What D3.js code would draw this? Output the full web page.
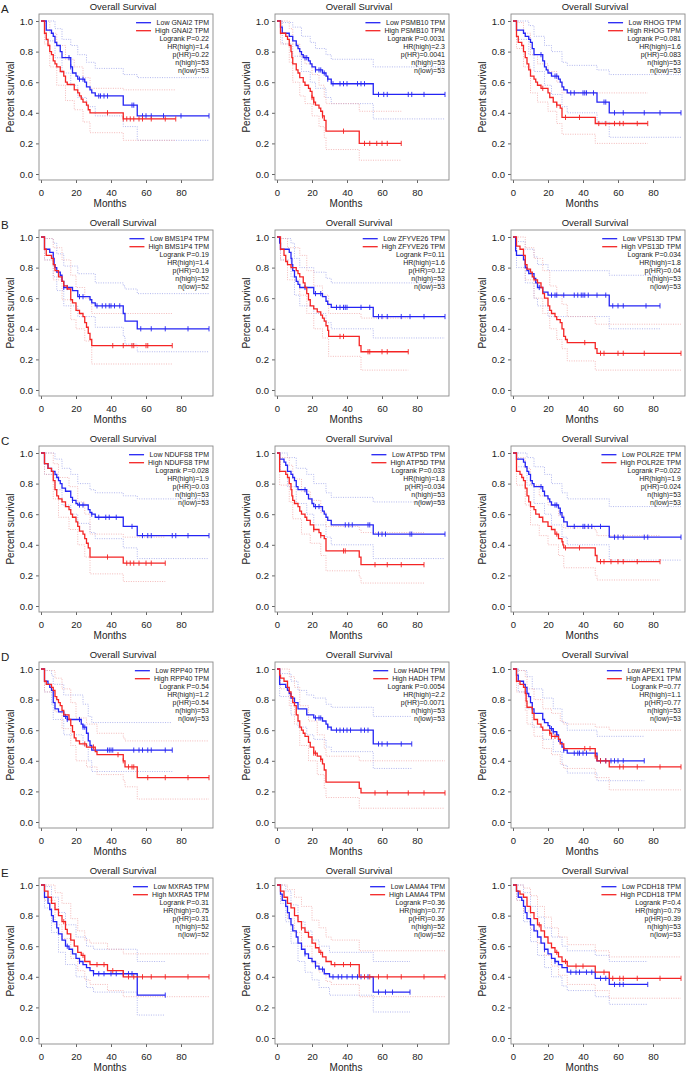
<!DOCTYPE html>
<html lang="en">
<head>
<meta charset="UTF-8" />
<title>Overall Survival panels</title>
<script src="https://d3js.org/d3.v7.min.js"></script>
<style>
  body { margin: 0; background: #fff; font-family: "Liberation Sans", Arial, sans-serif; }
  svg text { fill: #222; }
</style>
</head>
<body>
<div id="container"></div>
<script>
// panel labels and stats
const genes = ["GNAI2", "PSMB10", "RHOG", "BMS1P4", "ZFYVE26", "VPS13D", "NDUFS8", "ATP5D", "POLR2E",
  "RPP40", "HADH", "APEX1", "MXRA5", "LAMA4", "PCDH18"];
const rowLetters = ["A", "B", "C", "D", "E"];
const logrankP = ["0.22", "0.0031", "0.081", "0.19", "0.11", "0.034", "0.028", "0.033", "0.022",
  "0.54", "0.0054", "0.77", "0.31", "0.36", "0.4"];
const hrHigh = ["1.4", "2.3", "1.6", "1.4", "1.6", "1.8", "1.9", "1.8", "1.9", "1.2", "2.2", "1.1", "0.75", "0.77", "0.79"];
const pHR = ["0.22", "0.0041", "0.083", "0.19", "0.12", "0.04", "0.03", "0.034", "0.024",
  "0.54", "0.0071", "0.77", "0.31", "0.36", "0.39"];
const nHigh = [53, 53, 53, 52, 53, 53, 53, 53, 53, 53, 53, 53, 52, 52, 53];
const nLow = [53, 53, 53, 52, 53, 53, 53, 53, 53, 53, 53, 53, 52, 52, 53];
const xTicks = [0, 20, 40, 60, 80];
const yTicks = [0, 0.2, 0.4, 0.6, 0.8, 1.0];

// curves: [month, survival]; censor months; CI: [month, lower, upper]
const GNAI2_low = [[0,1],[3,0.94],[6,0.92],[7,0.90],[8,0.86],[9,0.84],[11,0.80],[12,0.76],[17,0.70],[18,0.66],[20,0.64],[21,0.62],[25,0.60],[26,0.57],[28,0.55],[29,0.53],[31,0.51],[47,0.45],[55,0.38],[96,0.38]];
const GNAI2_lowC = [16,17,22,24,33,34,36,38,52,53,58,60,63,70,80,96];
const GNAI2_lowCI = [[0,1,1],[3,0.87,1],[8,0.76,0.95],[12,0.66,0.88],[17,0.58,0.84],[21,0.50,0.78],[26,0.44,0.73],[31,0.38,0.69],[47,0.31,0.65],[55,0.22,0.63],[96,0.22,0.63]];
const GNAI2_high = [[0,1],[2,0.92],[3,0.88],[4,0.84],[5,0.80],[6,0.78],[7,0.74],[8,0.72],[9,0.70],[11,0.67],[13,0.64],[14,0.60],[15,0.585],[19,0.55],[21,0.53],[22,0.51],[23,0.49],[24,0.47],[26,0.45],[27,0.42],[28,0.40],[47,0.36],[77,0.36]];
const GNAI2_highC = [38,47,49,51,53,56,58,63,71,77];
const GNAI2_highCI = [[0,1,1],[2,0.85,1],[5,0.70,0.92],[9,0.58,0.84],[14,0.48,0.75],[19,0.42,0.70],[24,0.34,0.63],[28,0.27,0.56],[47,0.22,0.55],[77,0.22,0.55]];

const PSMB10_low = [[0,1],[2,0.96],[3,0.92],[7,0.90],[9,0.87],[11,0.84],[12,0.82],[13,0.80],[14,0.78],[15,0.76],[18,0.74],[19,0.72],[20,0.70],[22,0.68],[26,0.66],[28,0.64],[29,0.62],[31,0.59],[55,0.52],[96,0.52]];
const PSMB10_lowC = [16,17,22,24,25,27,29,32,36,38,40,46,48,50,58,61,63,75,77,84,96];
const PSMB10_lowCI = [[0,1,1],[3,0.85,0.99],[9,0.77,0.96],[14,0.67,0.90],[19,0.60,0.86],[22,0.56,0.82],[28,0.50,0.78],[31,0.46,0.75],[55,0.36,0.70],[96,0.36,0.70]];
const PSMB10_high = [[0,1],[2,0.92],[5,0.90],[6,0.88],[7,0.84],[8,0.80],[8.5,0.76],[9,0.72],[11,0.68],[12,0.66],[13,0.63],[15,0.60],[16,0.58],[18,0.56],[19,0.54],[20,0.50],[21,0.47],[22,0.45],[24,0.43],[25,0.41],[26,0.38],[27,0.35],[28,0.28],[47,0.20],[71,0.20]];
const PSMB10_highC = [20,21,26,38,50,53,57,60,63,71];
const PSMB10_highCI = [[0,1,1],[2,0.85,1],[7,0.73,0.95],[9,0.60,0.85],[13,0.51,0.77],[16,0.46,0.72],[20,0.38,0.65],[24,0.31,0.58],[27,0.24,0.50],[28,0.16,0.46],[47,0.09,0.41],[71,0.09,0.41]];

const RHOG_low = [[0,1],[2,0.94],[6,0.92],[7,0.90],[9,0.88],[10,0.86],[11,0.82],[12,0.78],[17,0.74],[18,0.70],[19,0.68],[20,0.66],[22,0.64],[26,0.62],[27,0.60],[28,0.57],[29,0.55],[31,0.53],[48,0.47],[55,0.40],[96,0.40]];
const RHOG_lowC = [16,24,25,33,35,40,41,42,46,52,53,58,63,75,84,96];
const RHOG_lowCI = [[0,1,1],[2,0.88,1],[9,0.78,0.97],[12,0.67,0.90],[18,0.58,0.84],[22,0.52,0.80],[28,0.44,0.73],[31,0.40,0.71],[48,0.34,0.68],[55,0.24,0.65],[96,0.24,0.65]];
const RHOG_high = [[0,1],[2,0.90],[3,0.86],[5,0.84],[6,0.80],[7,0.76],[8,0.72],[9,0.68],[10,0.64],[12,0.62],[13,0.60],[14,0.58],[16,0.56],[20,0.53],[21,0.50],[23,0.47],[25,0.45],[27,0.43],[28,0.37],[47,0.33],[77,0.33]];
const RHOG_highC = [17,25,30,38,49,53,58,61,63,71,77];
const RHOG_highCI = [[0,1,1],[2,0.82,0.99],[6,0.70,0.92],[10,0.53,0.78],[14,0.47,0.72],[20,0.41,0.67],[25,0.33,0.60],[28,0.26,0.53],[47,0.20,0.53],[77,0.20,0.53]];

const BMS1P4_low = [[0,1],[2,0.92],[5,0.90],[7,0.86],[7.5,0.82],[8,0.80],[9,0.77],[11,0.75],[12,0.71],[13,0.67],[18,0.65],[21,0.61],[28,0.59],[29,0.57],[31,0.55],[47,0.50],[48,0.45],[55,0.40],[96,0.40]];
const BMS1P4_lowC = [13,15,22,24,32,35,37,39,40,42,45,57,63,71,84,96];
const BMS1P4_lowCI = [[0,1,1],[2,0.85,0.99],[7,0.74,0.96],[9,0.65,0.89],[13,0.55,0.81],[21,0.48,0.76],[31,0.41,0.70],[47,0.35,0.68],[48,0.30,0.66],[55,0.25,0.63],[96,0.25,0.63]];
const BMS1P4_high = [[0,1],[2,0.92],[3,0.88],[6,0.86],[7,0.82],[8,0.78],[10,0.74],[12,0.71],[13,0.68],[15,0.66],[17,0.59],[18,0.57],[20,0.52],[22,0.50],[24,0.48],[25,0.44],[26,0.41],[27,0.37],[28,0.33],[29,0.29],[75,0.29]];
const BMS1P4_highC = [41,47,52,53,60,61,75];
const BMS1P4_highCI = [[0,1,1],[2,0.85,0.99],[7,0.72,0.93],[12,0.59,0.85],[17,0.46,0.75],[20,0.40,0.67],[25,0.32,0.60],[29,0.17,0.50],[75,0.17,0.50]];

const ZFYVE26_low = [[0,1],[1.5,0.96],[2,0.92],[7,0.90],[8,0.86],[8.5,0.82],[9,0.78],[10,0.74],[11,0.71],[12,0.69],[13,0.67],[21,0.63],[26,0.61],[28,0.58],[29,0.56],[31,0.54],[55,0.48],[96,0.48]];
const ZFYVE26_lowC = [16,22,25,34,36,38,39,40,48,53,58,60,63,71,76,84,96];
const ZFYVE26_lowCI = [[0,1,1],[2,0.85,0.99],[8,0.74,0.96],[10,0.62,0.86],[13,0.55,0.80],[21,0.50,0.77],[28,0.44,0.73],[31,0.40,0.70],[55,0.34,0.70],[96,0.34,0.70]];
const ZFYVE26_high = [[0,1],[2,0.92],[4,0.88],[5,0.84],[6,0.82],[8,0.80],[11,0.78],[12,0.76],[13,0.74],[15,0.70],[16,0.67],[17,0.63],[18,0.59],[19,0.55],[21,0.53],[23,0.51],[25,0.49],[26,0.47],[27,0.45],[28,0.42],[29,0.39],[29.5,0.35],[47,0.29],[48,0.25],[75,0.25]];
const ZFYVE26_highC = [36,38,52,53,60,63,75];
const ZFYVE26_highCI = [[0,1,1],[2,0.85,0.99],[6,0.72,0.93],[13,0.62,0.88],[17,0.50,0.78],[21,0.40,0.68],[26,0.34,0.62],[29.5,0.22,0.50],[48,0.13,0.47],[75,0.13,0.47]];

const VPS13D_low = [[0,1],[1.5,0.91],[2,0.88],[6,0.85],[7,0.80],[8,0.78],[9,0.76],[12,0.73],[13,0.70],[14,0.67],[17,0.64],[20,0.62],[55,0.55],[84,0.55]];
const VPS13D_lowC = [15,22,24,25,29,35,37,39,40,41,43,48,53,57,60,63,76,84];
const VPS13D_lowCI = [[0,1,1],[2,0.80,0.97],[7,0.70,0.92],[12,0.60,0.87],[14,0.55,0.82],[20,0.48,0.78],[55,0.40,0.75],[84,0.40,0.75]];
const VPS13D_high = [[0,1],[2,0.94],[4,0.92],[6,0.88],[7,0.82],[8,0.79],[10,0.77],[11,0.74],[12,0.72],[14,0.70],[16,0.67],[17,0.63],[18,0.60],[20,0.55],[21,0.52],[22,0.50],[24,0.48],[25,0.46],[27,0.44],[28,0.40],[29,0.35],[30,0.33],[31,0.31],[47,0.27],[48,0.24],[96,0.24]];
const VPS13D_highC = [41,50,52,60,63,75,96];
const VPS13D_highCI = [[0,1,1],[2,0.88,1],[7,0.72,0.93],[12,0.60,0.86],[17,0.50,0.78],[21,0.40,0.68],[25,0.33,0.62],[28,0.27,0.56],[31,0.19,0.48],[47,0.13,0.43],[96,0.13,0.43]];

const NDUFS8_low = [[0,1],[2,0.93],[4,0.90],[6,0.88],[8,0.86],[9,0.84],[10,0.82],[11,0.80],[12,0.77],[14,0.75],[17,0.71],[18,0.69],[20,0.67],[21,0.66],[27,0.63],[28,0.61],[29,0.60],[31,0.58],[47,0.52],[55,0.46],[96,0.46]];
const NDUFS8_lowC = [18,22,24,29,33,37,39,43,52,58,61,63,75,77,84,96];
const NDUFS8_lowCI = [[0,1,1],[2,0.86,1],[8,0.76,0.96],[12,0.66,0.90],[17,0.60,0.86],[21,0.54,0.80],[28,0.48,0.76],[31,0.44,0.74],[47,0.38,0.72],[55,0.31,0.70],[96,0.31,0.70]];
const NDUFS8_high = [[0,1],[2,0.93],[4,0.90],[6,0.88],[7,0.82],[8,0.76],[9,0.72],[10,0.70],[12,0.68],[14,0.65],[16,0.63],[17,0.60],[18,0.58],[20,0.55],[21,0.52],[22,0.49],[24,0.47],[25,0.44],[26,0.41],[27,0.38],[28,0.32],[47,0.28],[71,0.28]];
const NDUFS8_highC = [38,49,51,53,56,60,63,71];
const NDUFS8_highCI = [[0,1,1],[2,0.86,1],[7,0.70,0.93],[10,0.58,0.84],[16,0.50,0.78],[21,0.40,0.68],[25,0.32,0.60],[28,0.21,0.47],[47,0.16,0.45],[71,0.16,0.45]];

const ATP5D_low = [[0,1],[1.5,0.96],[4,0.94],[5,0.92],[6,0.88],[8,0.86],[9,0.84],[10,0.82],[11,0.78],[12,0.76],[17,0.73],[18,0.70],[20,0.67],[21,0.65],[26,0.62],[27,0.60],[28,0.58],[29,0.56],[31,0.53],[55,0.47],[96,0.47]];
const ATP5D_lowC = [16,22,24,39,41,43,52,53,58,60,62,76,77,96];
const ATP5D_lowCI = [[0,1,1],[2,0.88,1],[6,0.78,0.97],[11,0.67,0.90],[17,0.60,0.86],[21,0.53,0.80],[28,0.45,0.74],[31,0.40,0.71],[55,0.31,0.68],[96,0.31,0.68]];
const ATP5D_high = [[0,1],[1.5,0.88],[5,0.86],[6,0.84],[7,0.80],[8,0.76],[8.5,0.72],[9,0.69],[10,0.67],[12,0.65],[13,0.62],[14,0.60],[16,0.58],[17,0.56],[19,0.53],[21,0.50],[24,0.48],[25,0.46],[27,0.44],[28,0.36],[47,0.32],[48,0.27],[84,0.27]];
const ATP5D_highC = [21,25,38,39,56,63,71,84];
const ATP5D_highCI = [[0,1,1],[1.5,0.79,0.97],[7,0.68,0.92],[9,0.57,0.83],[14,0.47,0.75],[19,0.41,0.69],[25,0.33,0.61],[28,0.23,0.52],[47,0.19,0.50],[48,0.15,0.48],[84,0.15,0.48]];

const POLR2E_low = [[0,1],[2,0.96],[6,0.94],[7,0.91],[8,0.88],[9,0.86],[10,0.82],[11,0.80],[12,0.78],[17,0.75],[18,0.72],[20,0.70],[21,0.68],[22,0.66],[26,0.64],[27,0.61],[28,0.58],[29,0.55],[31,0.52],[55,0.45],[96,0.45]];
const POLR2E_lowC = [16,24,25,27,35,40,41,43,45,50,58,60,63,75,77,96];
const POLR2E_lowCI = [[0,1,1],[2,0.91,1],[8,0.79,0.97],[12,0.67,0.91],[18,0.60,0.86],[22,0.53,0.80],[28,0.45,0.74],[31,0.40,0.70],[55,0.30,0.65],[96,0.30,0.65]];
const POLR2E_high = [[0,1],[2,0.88],[4,0.86],[5,0.84],[6,0.82],[7,0.77],[8,0.72],[9,0.68],[10,0.65],[12,0.63],[13,0.60],[15,0.58],[17,0.55],[20,0.52],[22,0.50],[24,0.47],[26,0.44],[28,0.42],[28.5,0.40],[29,0.38],[47,0.33],[48,0.29],[84,0.29]];
const POLR2E_highC = [25,30,38,50,52,56,60,63,71,84];
const POLR2E_highCI = [[0,1,1],[2,0.79,0.97],[7,0.66,0.90],[10,0.53,0.79],[15,0.46,0.72],[20,0.40,0.66],[26,0.33,0.59],[29,0.25,0.51],[47,0.20,0.49],[48,0.17,0.46],[84,0.17,0.46]];

const RPP40_low = [[0,1],[2,0.92],[4,0.90],[5,0.88],[6,0.86],[7,0.78],[8,0.74],[10,0.72],[13,0.69],[15,0.67],[23,0.64],[24,0.62],[26,0.58],[27,0.53],[28,0.50],[29,0.47],[75,0.47]];
const RPP40_lowC = [14,15,22,24,25,38,39,40,41,53,56,58,61,63,71,75];
const RPP40_lowCI = [[0,1,1],[2,0.85,0.99],[6,0.77,0.96],[7,0.67,0.90],[13,0.57,0.83],[24,0.50,0.77],[27,0.40,0.69],[29,0.33,0.65],[75,0.33,0.65]];
const RPP40_high = [[0,1],[2,0.92],[3,0.90],[6,0.88],[7,0.86],[8,0.82],[9,0.80],[10,0.78],[11,0.76],[12,0.73],[13,0.70],[16,0.67],[17,0.63],[18,0.59],[19,0.55],[20,0.53],[22,0.51],[26,0.49],[31,0.46],[32,0.44],[47,0.40],[48,0.36],[55,0.29],[96,0.29]];
const RPP40_highC = [25,30,44,47,50,52,53,61,71,84,96];
const RPP40_highCI = [[0,1,1],[2,0.85,0.99],[8,0.72,0.94],[12,0.61,0.87],[17,0.50,0.78],[20,0.40,0.68],[26,0.36,0.64],[32,0.31,0.58],[47,0.27,0.55],[48,0.23,0.53],[55,0.15,0.53],[96,0.15,0.53]];

const HADH_low = [[0,1],[1.5,0.90],[5,0.88],[6,0.86],[7,0.84],[8,0.81],[10,0.78],[12,0.74],[17,0.70],[21,0.68],[26,0.66],[28,0.64],[29,0.62],[31,0.60],[55,0.51],[77,0.51]];
const HADH_lowC = [22,24,25,29,34,36,38,40,42,48,50,52,58,60,63,71,77];
const HADH_lowCI = [[0,1,1],[1.5,0.82,0.97],[8,0.70,0.92],[12,0.62,0.86],[17,0.57,0.83],[21,0.54,0.81],[28,0.49,0.77],[31,0.46,0.75],[55,0.35,0.69],[77,0.35,0.69]];
const HADH_high = [[0,1],[1.5,0.96],[2,0.94],[4,0.92],[6,0.88],[7,0.85],[8,0.82],[9,0.78],[10,0.76],[11,0.70],[12,0.66],[13,0.62],[14,0.60],[15,0.58],[16,0.56],[18,0.52],[19,0.49],[21,0.45],[23,0.43],[25,0.41],[26,0.38],[27,0.34],[28,0.26],[47,0.22],[48,0.19],[96,0.19]];
const HADH_highC = [21,22,25,56,63,75,84,96];
const HADH_highCI = [[0,1,1],[2,0.87,1],[7,0.76,0.95],[10,0.64,0.88],[13,0.50,0.76],[18,0.40,0.66],[23,0.31,0.57],[27,0.22,0.48],[28,0.16,0.43],[47,0.09,0.40],[96,0.09,0.40]];

const APEX1_low = [[0,1],[2,0.96],[3,0.92],[6,0.90],[7,0.88],[8,0.84],[9,0.82],[10,0.78],[11,0.74],[12,0.71],[17,0.67],[18,0.65],[20,0.63],[21,0.61],[23,0.59],[25,0.57],[26,0.54],[27,0.52],[28,0.49],[29,0.47],[31,0.45],[48,0.40],[75,0.40]];
const APEX1_lowC = [22,23,25,26,29,35,37,38,40,42,50,53,56,58,60,63,75];
const APEX1_lowCI = [[0,1,1],[3,0.85,0.99],[8,0.74,0.95],[11,0.62,0.87],[17,0.54,0.81],[23,0.46,0.74],[28,0.37,0.65],[31,0.32,0.60],[48,0.27,0.56],[75,0.27,0.56]];
const APEX1_high = [[0,1],[2,0.92],[4,0.90],[6,0.88],[7,0.84],[7.5,0.79],[8,0.75],[11,0.71],[12,0.67],[14,0.64],[16,0.62],[17,0.60],[21,0.58],[22,0.56],[26,0.54],[27,0.51],[29,0.48],[47,0.43],[48,0.40],[55,0.36],[96,0.36]];
const APEX1_highC = [21,22,24,41,44,47,50,53,61,63,71,84,96];
const APEX1_highCI = [[0,1,1],[2,0.85,0.99],[7,0.73,0.95],[8,0.64,0.87],[12,0.56,0.80],[17,0.48,0.74],[22,0.44,0.71],[27,0.38,0.66],[29,0.35,0.64],[47,0.29,0.62],[55,0.21,0.60],[96,0.21,0.60]];

const MXRA5_low = [[0,1],[2,0.92],[4,0.88],[5,0.84],[6,0.80],[7,0.76],[9,0.72],[10,0.68],[12,0.64],[14,0.60],[16,0.58],[18,0.55],[20,0.52],[22,0.50],[24,0.48],[26,0.46],[28,0.44],[30,0.42],[55,0.28],[71,0.28]];
const MXRA5_lowC = [15,22,30,33,36,40,43,47,50,52,71];
const MXRA5_lowCI = [[0,1,1],[2,0.85,0.99],[6,0.69,0.92],[10,0.56,0.82],[14,0.48,0.74],[20,0.40,0.66],[26,0.33,0.60],[30,0.30,0.58],[55,0.15,0.50],[71,0.15,0.50]];
const MXRA5_high = [[0,1],[2,0.96],[4,0.92],[6,0.88],[8,0.84],[10,0.80],[12,0.76],[14,0.71],[15,0.68],[17,0.64],[19,0.60],[21,0.56],[23,0.54],[25,0.50],[28,0.48],[38,0.44],[47,0.40],[96,0.40]];
const MXRA5_highC = [13,24,32,36,41,50,53,58,63,71,84,96];
const MXRA5_highCI = [[0,1,1],[2,0.90,1],[8,0.74,0.95],[12,0.65,0.88],[17,0.52,0.78],[21,0.44,0.70],[25,0.38,0.64],[28,0.35,0.62],[38,0.31,0.58],[47,0.27,0.55],[96,0.27,0.55]];

const LAMA4_low = [[0,1],[2,0.94],[3,0.90],[5,0.86],[6,0.82],[7,0.78],[8,0.74],[9,0.70],[11,0.66],[12,0.62],[14,0.58],[16,0.55],[18,0.52],[20,0.50],[22,0.47],[24,0.45],[27,0.42],[30,0.40],[55,0.30],[76,0.30]];
const LAMA4_lowC = [16,22,26,32,35,37,40,43,46,48,52,58,62,66,76];
const LAMA4_lowCI = [[0,1,1],[2,0.88,1],[5,0.76,0.96],[8,0.62,0.87],[12,0.50,0.76],[16,0.43,0.70],[20,0.38,0.64],[24,0.33,0.60],[30,0.28,0.56],[55,0.17,0.50],[76,0.17,0.50]];
const LAMA4_high = [[0,1],[2,0.96],[4,0.92],[6,0.88],[8,0.85],[10,0.80],[12,0.76],[14,0.72],[16,0.69],[18,0.66],[20,0.62],[22,0.59],[24,0.56],[26,0.53],[28,0.50],[31,0.48],[47,0.40],[96,0.40]];
const LAMA4_highC = [14,25,33,38,42,50,53,58,63,71,84,96];
const LAMA4_highCI = [[0,1,1],[2,0.90,1],[6,0.78,0.97],[10,0.69,0.92],[14,0.60,0.86],[20,0.49,0.77],[24,0.43,0.72],[28,0.37,0.66],[31,0.35,0.64],[47,0.27,0.57],[96,0.27,0.57]];

const PCDH18_low = [[0,1],[2,0.96],[3,0.92],[5,0.90],[6,0.86],[7,0.82],[8,0.78],[10,0.74],[12,0.70],[14,0.66],[16,0.62],[18,0.58],[20,0.55],[22,0.52],[24,0.50],[26,0.48],[28,0.46],[31,0.43],[47,0.39],[55,0.35],[77,0.35]];
const PCDH18_lowC = [18,24,33,36,38,42,45,50,53,58,61,63,77];
const PCDH18_lowCI = [[0,1,1],[2,0.90,1],[6,0.76,0.95],[10,0.63,0.86],[14,0.54,0.79],[18,0.46,0.72],[22,0.40,0.66],[28,0.34,0.60],[31,0.31,0.57],[47,0.27,0.54],[55,0.22,0.50],[77,0.22,0.50]];
const PCDH18_high = [[0,1],[2,0.96],[4,0.94],[6,0.92],[8,0.86],[10,0.82],[12,0.78],[14,0.74],[16,0.70],[18,0.66],[20,0.62],[22,0.59],[24,0.56],[26,0.53],[28,0.50],[31,0.47],[47,0.43],[55,0.39],[96,0.39]];
const PCDH18_highC = [15,25,30,36,40,52,57,61,63,71,84,96];
const PCDH18_highCI = [[0,1,1],[2,0.90,1],[6,0.83,0.98],[10,0.71,0.93],[14,0.62,0.86],[18,0.54,0.79],[22,0.47,0.72],[26,0.41,0.66],[31,0.35,0.61],[47,0.31,0.57],[55,0.26,0.53],[96,0.26,0.53]];

// one row per panel: low curve, censors, CI, high curve, censors, CI
const curves = [
  [GNAI2_low, GNAI2_lowC, GNAI2_lowCI, GNAI2_high, GNAI2_highC, GNAI2_highCI],
  [PSMB10_low, PSMB10_lowC, PSMB10_lowCI, PSMB10_high, PSMB10_highC, PSMB10_highCI],
  [RHOG_low, RHOG_lowC, RHOG_lowCI, RHOG_high, RHOG_highC, RHOG_highCI],
  [BMS1P4_low, BMS1P4_lowC, BMS1P4_lowCI, BMS1P4_high, BMS1P4_highC, BMS1P4_highCI],
  [ZFYVE26_low, ZFYVE26_lowC, ZFYVE26_lowCI, ZFYVE26_high, ZFYVE26_highC, ZFYVE26_highCI],
  [VPS13D_low, VPS13D_lowC, VPS13D_lowCI, VPS13D_high, VPS13D_highC, VPS13D_highCI],
  [NDUFS8_low, NDUFS8_lowC, NDUFS8_lowCI, NDUFS8_high, NDUFS8_highC, NDUFS8_highCI],
  [ATP5D_low, ATP5D_lowC, ATP5D_lowCI, ATP5D_high, ATP5D_highC, ATP5D_highCI],
  [POLR2E_low, POLR2E_lowC, POLR2E_lowCI, POLR2E_high, POLR2E_highC, POLR2E_highCI],
  [RPP40_low, RPP40_lowC, RPP40_lowCI, RPP40_high, RPP40_highC, RPP40_highCI],
  [HADH_low, HADH_lowC, HADH_lowCI, HADH_high, HADH_highC, HADH_highCI],
  [APEX1_low, APEX1_lowC, APEX1_lowCI, APEX1_high, APEX1_highC, APEX1_highCI],
  [MXRA5_low, MXRA5_lowC, MXRA5_lowCI, MXRA5_high, MXRA5_highC, MXRA5_highCI],
  [LAMA4_low, LAMA4_lowC, LAMA4_lowCI, LAMA4_high, LAMA4_highC, LAMA4_highCI],
  [PCDH18_low, PCDH18_lowC, PCDH18_lowCI, PCDH18_high, PCDH18_highC, PCDH18_highCI]
];

const W = 693, H = 1079;
const BLUE = "#2424f4", RED = "#f42424";
const BLUE_CI = "#9ea4ea", RED_CI = "#f0a8a8";

const svg = d3.select("#container").append("svg")
  .attr("width", W)
  .attr("height", H)
  .style("display", "block");
svg.append("rect").attr("width", W).attr("height", H).attr("fill", "#fff");

// survival value of a step curve at month t
function survAt(curve, t) {
  const i = d3.bisectRight(curve.map(d => d[0]), t) - 1;
  return curve[Math.max(i, 0)][1];
}

function drawPanel(i) {
  const r = Math.floor(i / 3), c = i % 3;
  const ox = c * 236, oy = r * 216;
  const x = d3.scaleLinear().domain([0, 96]).range([ox + 41, ox + 209]);
  const y = d3.scaleLinear().domain([0, 1]).range([oy + 174, oy + 21]);
  const g = svg.append("g");
  const [low, lowC, lowCI, high, highC, highCI] = curves[i];

  if (c === 0) {
    g.append("text").attr("x", 1).attr("y", oy + 13)
      .attr("font-size", 11.5).text(rowLetters[r]);
  }

  g.append("text").attr("x", ox + 123).attr("y", oy + 10)
    .attr("text-anchor", "middle").attr("font-size", 9.5)
    .text("Overall Survival");

  // y axis
  const yAxis = g.append("g").attr("transform", `translate(${ox + 39},0)`)
    .call(d3.axisLeft(y).tickValues(yTicks).tickFormat(d3.format(".1f")).tickSize(3).tickPadding(3));
  // x axis
  const xAxis = g.append("g").attr("transform", `translate(0,${oy + 180})`)
    .call(d3.axisBottom(x).tickValues(xTicks).tickSize(3).tickPadding(6));
  [yAxis, xAxis].forEach(a => {
    a.select(".domain").remove();
    a.selectAll("line").attr("stroke", "#666");
    a.selectAll("text").attr("font-size", 9.5).attr("fill", "#333")
      .attr("font-family", '"Liberation Sans", Arial, sans-serif');
  });

  g.append("rect")
    .attr("x", ox + 39).attr("y", oy + 14)
    .attr("width", 174).attr("height", 166)
    .attr("fill", "none").attr("stroke", "#8a8a8a").attr("stroke-width", 0.9);

  g.append("text")
    .attr("transform", `translate(${ox + 14},${oy + 97}) rotate(-90)`)
    .attr("text-anchor", "middle").attr("font-size", 10)
    .text("Percent survival");
  g.append("text").attr("x", ox + 110).attr("y", oy + 207)
    .attr("text-anchor", "middle").attr("font-size", 10).text("Months");

  // confidence bands (dotted)
  const ciLine = k => d3.line().x(d => x(d[0])).y(d => y(d[k])).curve(d3.curveStepAfter);
  [[lowCI, BLUE_CI], [highCI, RED_CI]].forEach(([ci, col]) => {
    [1, 2].forEach(k => {
      g.append("path").datum(ci).attr("d", ciLine(k))
        .attr("fill", "none").attr("stroke", col)
        .attr("stroke-width", 0.8).attr("stroke-dasharray", "1,1.4");
    });
  });

  const step = d3.line().x(d => x(d[0])).y(d => y(d[1])).curve(d3.curveStepAfter);
  [[low, lowC, BLUE], [high, highC, RED]].forEach(([cv, cens, col]) => {
    g.append("path").datum(cv).attr("d", step)
      .attr("fill", "none").attr("stroke", col).attr("stroke-width", 1.3);
    g.selectAll(null).data(cens).enter().append("line")
      .attr("x1", d => x(d)).attr("x2", d => x(d))
      .attr("y1", d => y(survAt(cv, d)) - 2.6)
      .attr("y2", d => y(survAt(cv, d)) + 2.6)
      .attr("stroke", col).attr("stroke-width", 0.9);
  });

  // legend, right aligned inside the box
  const right = ox + 209;
  const rows = [
    "Low " + genes[i] + " TPM",
    "High " + genes[i] + " TPM",
    "Logrank P=" + logrankP[i],
    "HR(high)=" + hrHigh[i],
    "p(HR)=" + pHR[i],
    "n(high)=" + nHigh[i],
    "n(low)=" + nLow[i]
  ];
  const texts = rows.map((t, k) => g.append("text")
    .attr("x", right).attr("y", oy + 25.2 + 8 * k)
    .attr("text-anchor", "end").attr("font-size", 7).attr("fill", "#333")
    .text(t));
  const maxW = Math.max(texts[0].node().getComputedTextLength(), texts[1].node().getComputedTextLength());
  [BLUE, RED].forEach((col, k) => {
    g.append("line")
      .attr("x1", right - maxW - 19).attr("x2", right - maxW - 4)
      .attr("y1", oy + 22.7 + 8 * k).attr("y2", oy + 22.7 + 8 * k)
      .attr("stroke", col).attr("stroke-width", 1.3);
  });
}

genes.forEach((gname, i) => drawPanel(i));
</script>
</body>
</html>
